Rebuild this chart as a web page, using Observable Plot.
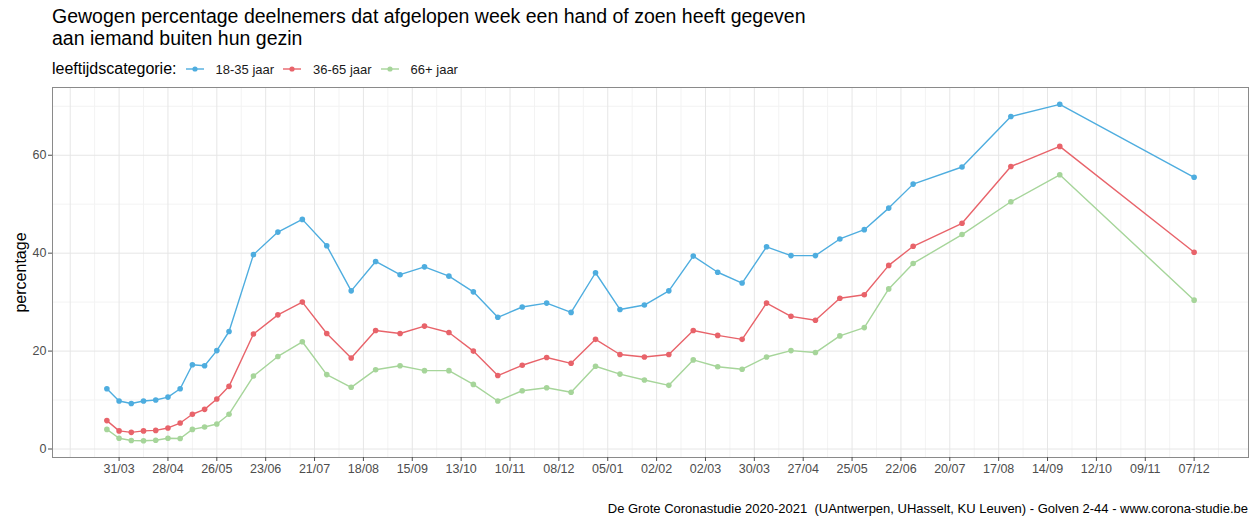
<!DOCTYPE html>
<html>
<head>
<meta charset="utf-8">
<script src="https://cdn.jsdelivr.net/npm/d3@7"></script>
<script src="https://cdn.jsdelivr.net/npm/@observablehq/plot@0.6"></script>
<style>
  body { margin: 0; background: #fff; font-family: "Liberation Sans", Arial, sans-serif; }
  #wrap { position: relative; width: 1251px; height: 518px; overflow: hidden; }
  #title { position: absolute; left: 52px; top: 6px; font-size: 19.5px; line-height: 21.5px; color: #000; }
  #legend { position: absolute; left: 52px; top: 60px; font-size: 16px; color: #000; display: flex; align-items: center; white-space: nowrap; }
  #legend .item { display: flex; align-items: center; margin-left: 9px; font-size: 13px; color: #1a1a1a; }
  #legend svg { margin-right: 12px; }
  #chart { position: absolute; left: 0; top: 80px; }
  #caption { position: absolute; right: 3px; top: 501px; font-size: 13px; color: #000; white-space: pre; }
</style>
</head>
<body>
<div id="wrap">
  <div id="title">Gewogen percentage deelnemers dat afgelopen week een hand of zoen heeft gegeven<br>aan iemand buiten hun gezin</div>
  <div id="legend"></div>
  <div id="chart"></div>
  <div id="caption"></div>
</div>
<script>
const legendTitle = "leeftijdscategorie:";
const categories = ["18-35 jaar", "36-65 jaar", "66+ jaar"];
const colors = ["#4EADDF", "#E8636A", "#A6D59A"];
const yLabel = "percentage";
const captionText = "De Grote Coronastudie 2020-2021  (UAntwerpen, UHasselt, KU Leuven) - Golven 2-44 - www.corona-studie.be";

const dates = ["2020-03-24","2020-03-31","2020-04-07","2020-04-14","2020-04-21","2020-04-28","2020-05-05","2020-05-12","2020-05-19","2020-05-26","2020-06-02",
  "2020-06-16","2020-06-30","2020-07-14","2020-07-28","2020-08-11","2020-08-25","2020-09-08","2020-09-22","2020-10-06",
  "2020-10-20","2020-11-03","2020-11-17","2020-12-01","2020-12-15","2020-12-29","2021-01-12","2021-01-26","2021-02-09","2021-02-23",
  "2021-03-09","2021-03-23","2021-04-06","2021-04-20","2021-05-04","2021-05-18","2021-06-01","2021-06-15","2021-06-29",
  "2021-07-27","2021-08-24","2021-09-21","2021-12-07"];

const young = [12.3, 9.8, 9.3, 9.8, 10.0, 10.6, 12.3, 17.2, 17.0, 20.1, 24.0,
  39.7, 44.3, 46.9, 41.5, 32.3, 38.3, 35.6, 37.2, 35.3,
  32.1, 26.9, 29.0, 29.8, 27.9, 36.0, 28.5, 29.4, 32.3, 39.4,
  36.1, 33.9, 41.3, 39.5, 39.5, 42.9, 44.8, 49.2, 54.1,
  57.6, 67.9, 70.4, 55.5];
const middle = [5.8, 3.7, 3.4, 3.7, 3.8, 4.3, 5.3, 7.1, 8.1, 10.2, 12.8,
  23.5, 27.4, 30.0, 23.6, 18.6, 24.2, 23.6, 25.1, 23.8,
  20.0, 15.0, 17.1, 18.7, 17.5, 22.4, 19.3, 18.8, 19.3, 24.2,
  23.2, 22.4, 29.8, 27.1, 26.3, 30.8, 31.5, 37.5, 41.4,
  46.1, 57.7, 61.8, 40.2];
const old = [4.0, 2.2, 1.75, 1.7, 1.8, 2.2, 2.15, 4.0, 4.5, 5.1, 7.1,
  14.9, 18.9, 21.9, 15.2, 12.6, 16.2, 17.0, 16.0, 16.0,
  13.2, 9.8, 11.9, 12.5, 11.6, 16.9, 15.3, 14.1, 13.0, 18.2,
  16.8, 16.3, 18.8, 20.1, 19.7, 23.1, 24.8, 32.7, 37.9,
  43.8, 50.5, 56.0, 30.4];

const xTickLabels = ["31/03","28/04","26/05","23/06","21/07","18/08","15/09","13/10","10/11","08/12",
  "05/01","02/02","02/03","30/03","27/04","25/05","22/06","20/07","17/08","14/09","12/10","09/11","07/12"];
const xTickDates = ["2020-03-31","2020-04-28","2020-05-26","2020-06-23","2020-07-21","2020-08-18","2020-09-15","2020-10-13","2020-11-10","2020-12-08",
  "2021-01-05","2021-02-02","2021-03-02","2021-03-30","2021-04-27","2021-05-25","2021-06-22","2021-07-20","2021-08-17","2021-09-14","2021-10-12","2021-11-09","2021-12-07"];
const yTicks = [0, 20, 40, 60];
const yMinor = [10, 30, 50, 70];

const parse = d3.utcParse("%Y-%m-%d");
const series = [young, middle, old];
const data = [];
categories.forEach((c, k) => dates.forEach((d, i) => data.push({date: parse(d), value: series[k][i], cat: c})));

const tickDates = xTickDates.map(parse);
const labelOf = new Map(tickDates.map((d, i) => [+d, xTickLabels[i]]));

// ggplot-like 5% expansion
const x0 = parse(dates[0]), x1 = parse(dates[dates.length - 1]);
const span = x1 - x0;
const xDomain = [new Date(+x0 - span * 0.05), new Date(+x1 + span * 0.05)];
const allV = [...young, ...middle, ...old];
const vMin = d3.min(allV), vMax = d3.max(allV);
const yDomain = [vMin - (vMax - vMin) * 0.05, vMax + (vMax - vMin) * 0.05];

// minor vertical grid: midpoints between major ticks (14 days)
const minorX = [];
for (let i = -3; i < tickDates.length + 2; i++) {
  minorX.push(d3.utcDay.offset(tickDates[0], 28 * i + 14));
}
const extraMajor = [d3.utcDay.offset(tickDates[0], -28)];

const chart = Plot.plot({
  width: 1251,
  height: 410,
  marginLeft: 52,
  marginRight: 3,
  marginTop: 7,
  marginBottom: 33,
  style: { fontFamily: "'Liberation Sans', Arial, sans-serif", fontSize: "12px", background: "white" },
  x: { type: "utc", domain: xDomain },
  y: { domain: yDomain },
  color: { domain: categories, range: colors },
  marks: [
    Plot.ruleX(minorX.filter(d => d >= xDomain[0] && d <= xDomain[1]), { stroke: "#f3f3f3", strokeWidth: 1 }),
    Plot.ruleY(yMinor, { stroke: "#f3f3f3", strokeWidth: 1 }),
    Plot.ruleX([...extraMajor, ...tickDates], { stroke: "#e6e6e6", strokeWidth: 1 }),
    Plot.ruleY(yTicks, { stroke: "#e6e6e6", strokeWidth: 1 }),
    Plot.frame({ stroke: "#8a8a8a", strokeWidth: 1 }),
    Plot.axisX({ ticks: tickDates, tickFormat: d => labelOf.get(+d), tickSize: 4, tickPadding: 3, label: null, color: "#4d4d4d", fontSize: 12.5 }),
    Plot.axisY({ ticks: yTicks, tickSize: 4, tickPadding: 2, label: yLabel, labelAnchor: "center", labelArrow: "none", labelOffset: 38, color: "#4d4d4d", fontSize: 12.5 }),
    Plot.line(data, { x: "date", y: "value", stroke: "cat", strokeWidth: 1.4 }),
    Plot.dot(data, { x: "date", y: "value", fill: "cat", r: 2.8 })
  ]
});
chart.querySelectorAll("g[aria-label='y-axis label'] text").forEach(t => { t.setAttribute("fill", "#000"); t.style.fontSize = "16px"; });
document.getElementById("chart").appendChild(chart);

// Legend
const leg = document.getElementById("legend");
const lt = document.createElement("span"); lt.textContent = legendTitle; leg.appendChild(lt);
categories.forEach((c, i) => {
  const item = document.createElement("span"); item.className = "item";
  item.innerHTML = `<svg width="18" height="10"><line x1="0" y1="5" x2="18" y2="5" stroke="${colors[i]}" stroke-width="1.4"/><circle cx="9" cy="5" r="2.6" fill="${colors[i]}"/></svg>`;
  const s = document.createElement("span"); s.textContent = c; item.appendChild(s);
  leg.appendChild(item);
});
document.getElementById("caption").textContent = captionText;
</script>
</body>
</html>
